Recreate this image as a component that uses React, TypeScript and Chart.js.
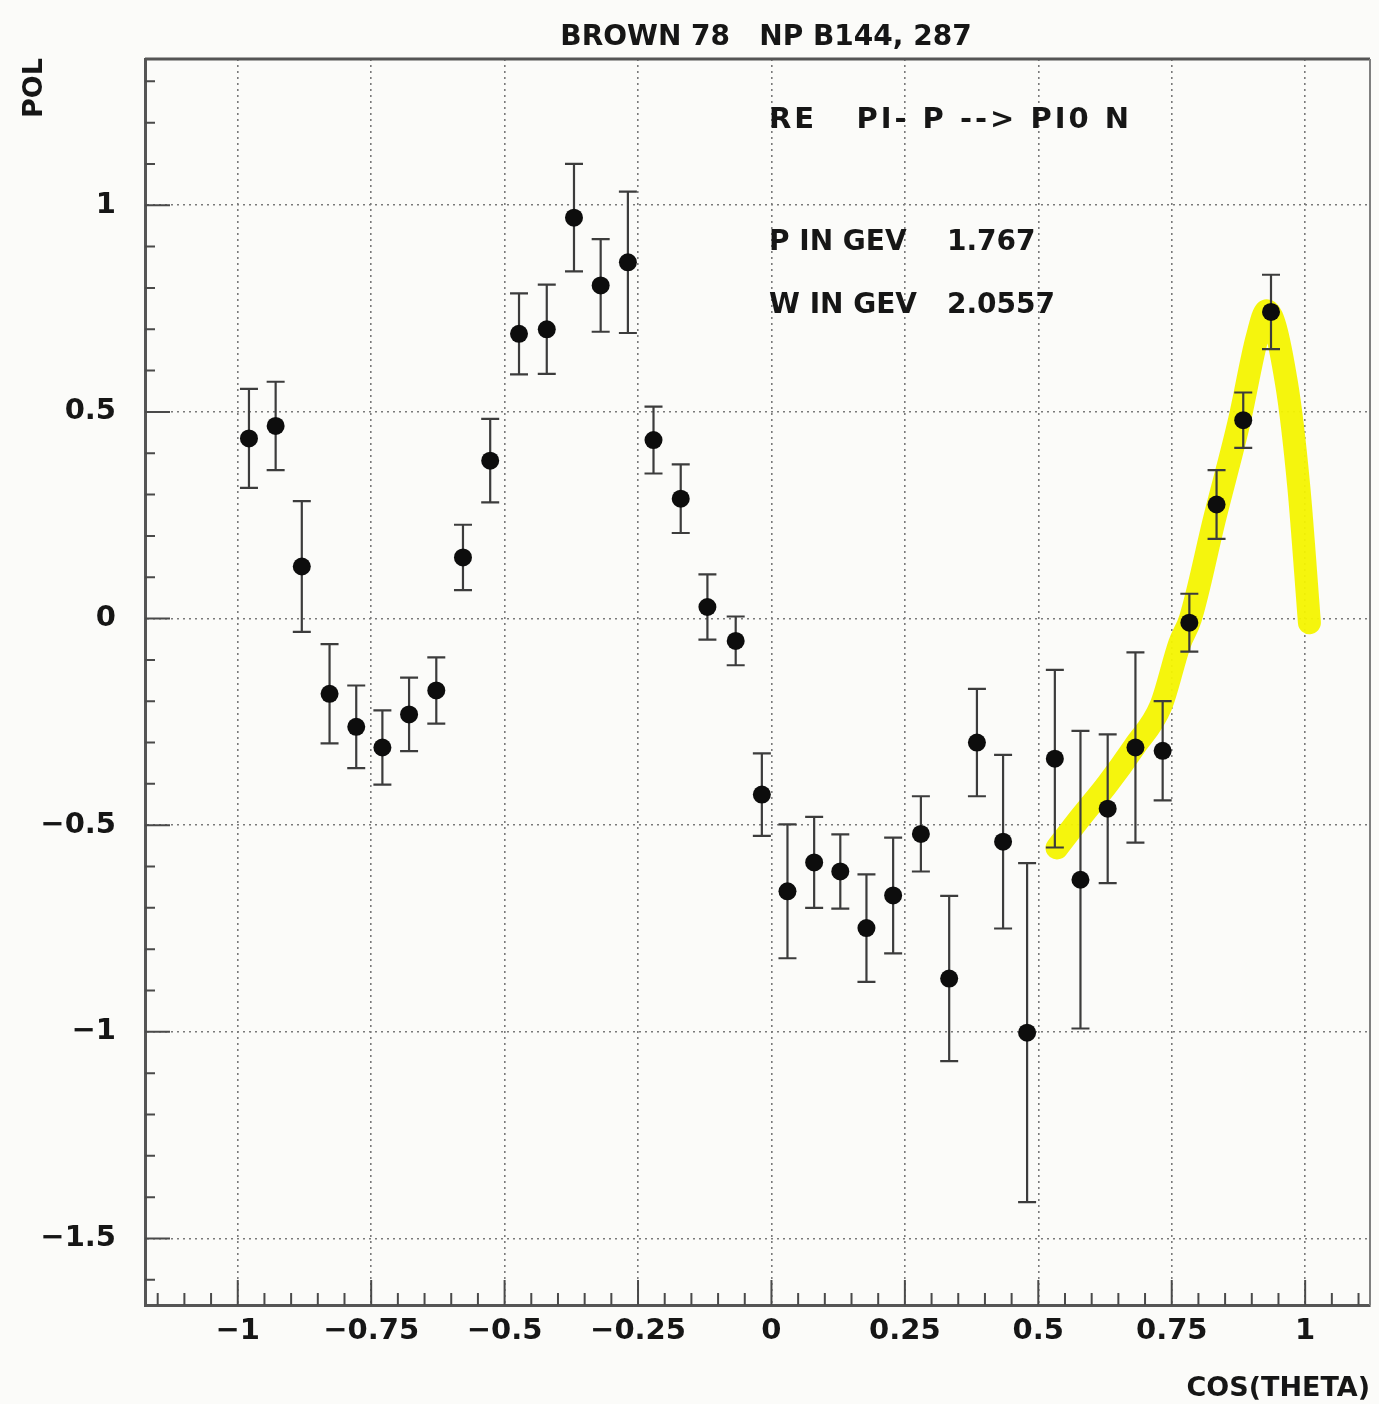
import React, { useEffect, useRef } from "react";
import { Chart, registerables } from "chart.js";

Chart.register(...registerables);

// ---- data ----
const COS_THETA = [
  -0.979, -0.929, -0.88, -0.828, -0.778, -0.729, -0.679, -0.628, -0.578, -0.527,
  -0.473, -0.421, -0.37, -0.32, -0.269, -0.221, -0.17, -0.12, -0.067, -0.018,
  0.03, 0.08, 0.129, 0.178, 0.228, 0.28, 0.333, 0.385, 0.434, 0.479,
  0.531, 0.579, 0.63, 0.682, 0.733, 0.783, 0.834, 0.884, 0.936,
];
const POL = [
  0.436, 0.466, 0.126, -0.182, -0.262, -0.312, -0.232, -0.174, 0.148, 0.382,
  0.689, 0.7, 0.97, 0.806, 0.862, 0.432, 0.29, 0.028, -0.054, -0.426,
  -0.66, -0.59, -0.612, -0.749, -0.67, -0.521, -0.871, -0.3, -0.54, -1.002,
  -0.339, -0.632, -0.46, -0.312, -0.32, -0.01, 0.276, 0.48, 0.742,
];
const POL_ERR = [
  0.12, 0.107, 0.158, 0.12, 0.1, 0.09, 0.089, 0.08, 0.079, 0.101,
  0.098, 0.108, 0.13, 0.112, 0.171, 0.081, 0.083, 0.079, 0.059, 0.1,
  0.162, 0.11, 0.09, 0.13, 0.14, 0.091, 0.2, 0.13, 0.21, 0.41,
  0.215, 0.36, 0.18, 0.23, 0.12, 0.07, 0.083, 0.067, 0.09,
];
// hand-drawn yellow highlight
const HIGHLIGHT_X = [0.535, 0.58, 0.63, 0.68, 0.73, 0.765, 0.785, 0.83, 0.877, 0.91, 0.928, 0.965, 0.988, 1.008];
const HIGHLIGHT_Y = [-0.555, -0.48, -0.4, -0.31, -0.21, -0.06, 0.0, 0.24, 0.48, 0.68, 0.745, 0.57, 0.32, -0.01];

const X_TICKS = [-1, -0.75, -0.5, -0.25, 0, 0.25, 0.5, 0.75, 1];
const Y_TICKS = [-1.5, -1, -0.5, 0, 0.5, 1];

const TITLE = "BROWN 78   NP B144, 287";
const X_TITLE = "COS(THETA)";
const Y_TITLE = "POL";
const REACTION = "RE   PI- P --> PI0 N";
const P_LABEL = "P IN GEV";
const P_VALUE = "1.767";
const W_LABEL = "W IN GEV";
const W_VALUE = "2.0557";

const FONT = '"DejaVu Sans", sans-serif';
const INK = "#161616";

const fmt = (v: number) => (v < 0 ? "\u2212" + String(Math.abs(v)) : String(v));

const errorBars = {
  id: "errorBars",
  beforeDatasetDraw(chart: any, args: any) {
    if (args.index !== 0) return;
    const { ctx, scales } = chart;
    const x = scales.x;
    const y = scales.y;
    ctx.save();
    ctx.strokeStyle = "#3c3c3c";
    ctx.lineWidth = 2.2;
    for (let i = 0; i < POL.length; i++) {
      const px = x.getPixelForValue(COS_THETA[i]);
      const top = y.getPixelForValue(POL[i] + POL_ERR[i]);
      const bot = y.getPixelForValue(POL[i] - POL_ERR[i]);
      ctx.beginPath();
      ctx.moveTo(px, top);
      ctx.lineTo(px, bot);
      ctx.moveTo(px - 9, top);
      ctx.lineTo(px + 9, top);
      ctx.moveTo(px - 9, bot);
      ctx.lineTo(px + 9, bot);
      ctx.stroke();
    }
    ctx.restore();
  },
};

const frameAndTicks = {
  id: "frameAndTicks",
  afterDraw(chart: any) {
    const { ctx, chartArea, scales } = chart;
    const { left, right, top, bottom } = chartArea;
    const x = scales.x;
    const y = scales.y;
    ctx.save();
    ctx.strokeStyle = "#4a4a4a";
    ctx.lineWidth = 2;
    ctx.beginPath();
    for (let i = -23; i <= 22; i++) {
      const v = i * 0.05;
      const px = x.getPixelForValue(v);
      if (px < left + 1 || px > right - 1) continue;
      const major = i % 5 === 0;
      ctx.moveTo(px, bottom);
      ctx.lineTo(px, bottom - (major ? 25 : 12));
    }
    for (let i = -16; i <= 13; i++) {
      const v = i / 10;
      const py = y.getPixelForValue(v);
      if (py < top + 1 || py > bottom - 1) continue;
      const major = i % 5 === 0;
      ctx.moveTo(left, py);
      ctx.lineTo(left + (major ? 25 : 10), py);
    }
    ctx.stroke();
    // top & right frame
    ctx.strokeStyle = "#555";
    ctx.lineWidth = 3;
    ctx.beginPath();
    ctx.moveTo(left, top);
    ctx.lineTo(right, top);
    ctx.stroke();
    ctx.strokeStyle = "#808080";
    ctx.lineWidth = 2;
    ctx.beginPath();
    ctx.moveTo(right, top);
    ctx.lineTo(right, bottom);
    ctx.stroke();
    ctx.restore();
  },
};

const texts = {
  id: "texts",
  afterDraw(chart: any) {
    const { ctx } = chart;
    ctx.save();
    ctx.fillStyle = INK;
    ctx.textBaseline = "alphabetic";
    ctx.font = `bold 28px ${FONT}`;
    ctx.textAlign = "center";
    ctx.fillText(TITLE, 766, 45);

    ctx.textAlign = "right";
    ctx.font = `bold 27px ${FONT}`;
    ctx.fillText(X_TITLE, 1370, 1396);

    ctx.save();
    ctx.translate(42, 118);
    ctx.rotate(-Math.PI / 2);
    ctx.textAlign = "left";
    ctx.fillText(Y_TITLE, 0, 0);
    ctx.restore();

    ctx.textAlign = "left";
    ctx.font = `bold 29px ${FONT}`;
    (ctx as any).letterSpacing = "3px";
    ctx.fillText(REACTION, 769, 128);
    (ctx as any).letterSpacing = "0px";
    ctx.font = `bold 28px ${FONT}`;
    ctx.fillText(P_LABEL, 769, 250);
    ctx.fillText(P_VALUE, 947, 250);
    ctx.fillText(W_LABEL, 769, 313);
    ctx.fillText(W_VALUE, 947, 313);
    ctx.restore();
  },
};

const background = {
  id: "bg",
  beforeDraw(chart: any) {
    const { ctx, width, height } = chart;
    ctx.save();
    ctx.fillStyle = "#fbfbf9";
    ctx.fillRect(0, 0, width, height);
    ctx.restore();
  },
};

export default function App() {
  const ref = useRef<HTMLCanvasElement | null>(null);

  useEffect(() => {
    if (!ref.current) return;
    const points = COS_THETA.map((c, i) => ({ x: c, y: POL[i] }));
    const highlight = HIGHLIGHT_X.map((c, i) => ({ x: c, y: HIGHLIGHT_Y[i] }));
    const chart = new Chart(ref.current, {
      type: "scatter",
      data: {
        datasets: [
          {
            label: "POL",
            data: points,
            order: 0,
            pointRadius: 9,
            pointBackgroundColor: "#0d0d0d",
            pointBorderColor: "#0d0d0d",
            pointBorderWidth: 0,
          },
          {
            label: "highlight",
            type: "line",
            data: highlight,
            order: 1,
            showLine: true,
            pointRadius: 0,
            borderColor: "rgba(244,244,0,0.95)",
            borderWidth: 23,
            borderCapStyle: "round",
            borderJoinStyle: "round",
            cubicInterpolationMode: "monotone",
            fill: false,
          },
        ],
      },
      options: {
        responsive: false,
        animation: false,
        devicePixelRatio: 1,
        layout: { padding: { top: 59, right: 6, left: 0, bottom: 0 } },
        plugins: {
          legend: { display: false },
          tooltip: { enabled: false },
          title: { display: false },
        },
        scales: {
          x: {
            type: "linear",
            min: -1.1738,
            max: 1.1215,
            afterBuildTicks: (s: any) => {
              s.ticks = X_TICKS.map((v) => ({ value: v }));
            },
            afterFit: (s: any) => {
              s.height = 99;
            },
            grid: { color: "#7a7a7a", lineWidth: 1.6, drawTicks: false },
            border: { color: "#555", width: 3, dash: [2, 4] },
            ticks: {
              color: INK,
              font: { family: FONT, size: 29, weight: "bold" },
              padding: 9,
              maxRotation: 0,
              autoSkip: false,
              callback: (v: any) => fmt(Number(v)),
            },
          },
          y: {
            type: "linear",
            min: -1.661,
            max: 1.354,
            afterBuildTicks: (s: any) => {
              s.ticks = Y_TICKS.map((v) => ({ value: v }));
            },
            afterFit: (s: any) => {
              s.width = 145;
            },
            grid: { color: "#7a7a7a", lineWidth: 1.6, drawTicks: false },
            border: { color: "#555", width: 3, dash: [2, 4] },
            ticks: {
              color: INK,
              font: { family: FONT, size: 29, weight: "bold" },
              padding: 29,
              autoSkip: false,
              callback: (v: any) => fmt(Number(v)),
            },
          },
        },
      },
      plugins: [background, errorBars, frameAndTicks, texts],
    });
    return () => chart.destroy();
  }, []);

  return (
    <div style={{ position: "fixed", left: 0, top: 0, width: 1379, height: 1404 }}>
      <canvas ref={ref} width={1379} height={1404} style={{ display: "block" }} />
    </div>
  );
}
